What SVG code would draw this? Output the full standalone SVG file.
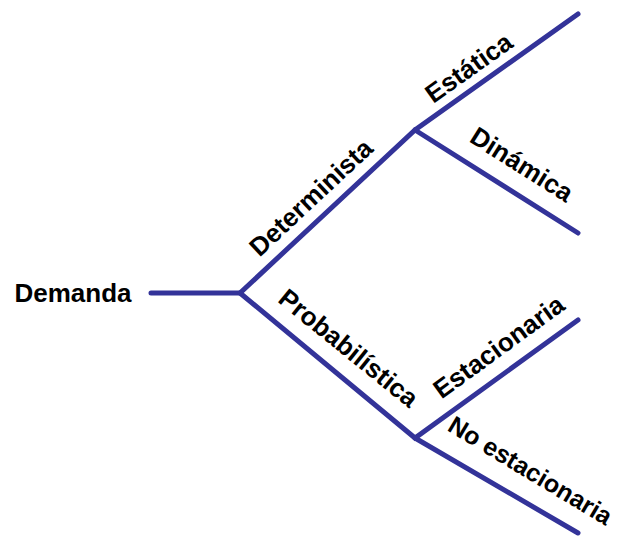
<svg xmlns="http://www.w3.org/2000/svg" width="620" height="543" viewBox="0 0 620 543">
<style>
.c{fill:none;stroke:#333399;stroke-width:5;stroke-linecap:round;stroke-linejoin:miter}
.t{font-family:"Liberation Sans",Arial,sans-serif;font-weight:bold;font-size:26px;fill:#000;text-anchor:middle}
</style>
<rect width="620" height="543" fill="#fff"/>
<g id="connectors">
<polyline class="c" points="151,293 240,293 415,130 578,14"/>
<polyline class="c" points="240,293 415,438 578,320"/>
<polyline class="c" points="415,130 578,233"/>
<polyline class="c" points="415,438 578,533"/>
</g>
<g id="demanda"><text class="t" x="73" y="302">Demanda</text></g>
<g id="determinista"><text class="t" x="317" y="204" transform="rotate(-43 317 204)">Determinista</text></g>
<g id="probabilistica"><text class="t" x="343" y="355" transform="rotate(39 343 355)">Probabilística</text></g>
<g id="estatica"><text class="t" x="474" y="75" transform="rotate(-35.4 474 75)">Estática</text></g>
<g id="dinamica"><text class="t" x="517" y="172" transform="rotate(32.3 517 172)">Dinámica</text></g>
<g id="estacionaria"><text class="t" x="504" y="354" transform="rotate(-36 504 354)">Estacionaria</text></g>
<g id="no-estacionaria"><text class="t" x="526" y="478" transform="rotate(31 526 478)" style="font-size:25px">No estacionaria</text></g>
</svg>
